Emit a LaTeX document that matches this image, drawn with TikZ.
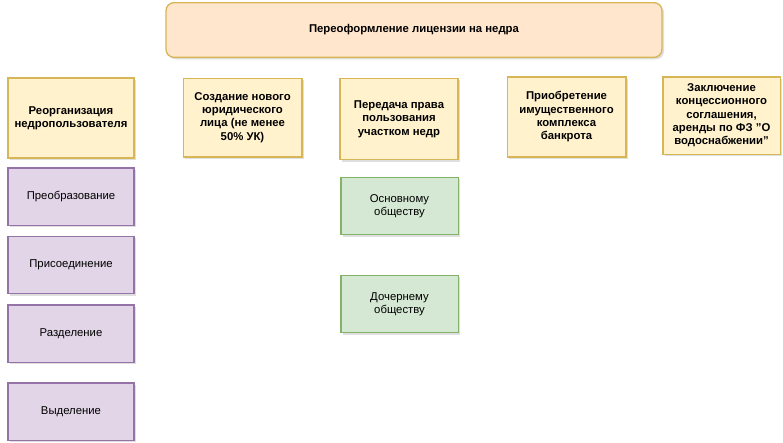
\documentclass[tikz,border=0pt]{standalone}
\usepackage{fontspec}
\setmainfont{Liberation Sans}
\usetikzlibrary{positioning,shadows}
\definecolor{orfill}{HTML}{FFE6CC}
\definecolor{orline}{HTML}{D6B656}
\definecolor{yefill}{HTML}{FFF2CC}
\definecolor{prfill}{HTML}{E1D5E7}
\definecolor{prline}{HTML}{9673A6}
\definecolor{grfill}{HTML}{D5E8D4}
\definecolor{grline}{HTML}{82B366}
\begin{document}
\begin{tikzpicture}[x=0.75pt, y=-0.75pt, font=\fontsize{8.5}{10}\selectfont,
    main/.style = {draw=orline, fill=yefill, line width=1pt, align=center,
      font=\fontsize{8.5}{10}\selectfont\bfseries, inner sep=1pt,
      drop shadow={shadow xshift=1.5pt, shadow yshift=-1.5pt, opacity=0.25}},
    kind/.style = {draw=prline, fill=prfill, line width=1pt, align=center,
      minimum width=94.5pt, minimum height=43pt,
      drop shadow={shadow xshift=1.5pt, shadow yshift=-1.5pt, opacity=0.25}},
    sub/.style = {kind, draw=grline, fill=grfill, minimum width=88pt}]
  \useasboundingbox (0,0) rectangle (783,443);
  \node[main, fill=orfill, rounded corners=6pt, minimum width=372pt,
    minimum height=41pt] (top) at (414,30) {Переоформление лицензии на недра};
  % yellow row
  \node[main, minimum width=94.5pt, minimum height=60pt] (reorg) at (71,118)
    {Реорганизация\\недропользователя};
  \node[main, minimum width=89pt, minimum height=59pt] (new) at (242.5,117.5)
    {Создание нового\\юридического\\лица (не менее\\50\% УК)};
  \node[main, minimum width=88.5pt, minimum height=61pt] (transfer) at (399,119)
    {Передача права\\пользования\\участком недр};
  \node[main, minimum width=89pt, minimum height=60pt] (bank) at (566.5,117)
    {Приобретение\\имущественного\\комплекса\\банкрота};
  \node[main, minimum width=88pt, minimum height=58pt] (conc) at (721.5,115.5)
    {Заключение\\концессионного\\соглашения,\\аренды по ФЗ "О\\водоснабжении"};
  % kinds of reorganisation
  \node[kind] (conv) at (71,196.5) {Преобразование};
  \node[kind] (join) at (71,265) {Присоединение};
  \node[kind] (split) at (71,333.5) {Разделение};
  \node[kind] (spin) at (71,411.5) {Выделение};
  % transfer targets
  \node[sub] (parent) at (399.5,206) {Основному\\обществу};
  \node[sub] (child) at (399.5,304) {Дочернему\\обществу};
\end{tikzpicture}
\end{document}
